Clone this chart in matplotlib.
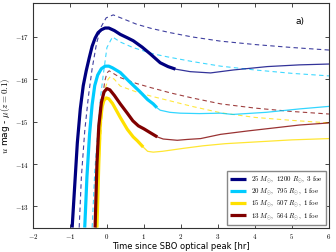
import matplotlib
matplotlib.use("Agg")
import matplotlib.pyplot as plt
from matplotlib.ticker import FuncFormatter

plt.rcParams['mathtext.fontset'] = 'cm'

# 25 Msun, 1200 Rsun, 3 foe
t_25 = [-0.94, -0.87, -0.8, -0.72, -0.64, -0.56, -0.48, -0.4, -0.32, -0.24, -0.15, -0.05, 0.05, 0.2, 0.36, 0.55, 0.71, 0.95, 1.17, 1.44, 1.65, 1.85]
m_25 = [-12.5, -13.5, -14.5, -15.3, -15.85, -16.2, -16.5, -16.78, -16.97, -17.1, -17.17, -17.21, -17.21, -17.15, -17.06, -16.98, -16.91, -16.76, -16.6, -16.39, -16.3, -16.24]
t_25_late = [1.85, 2.25, 2.8, 3.42, 4.34, 5.2, 6.0]
m_25_late = [-16.24, -16.18, -16.15, -16.22, -16.3, -16.34, -16.36]
t_25_alt = [-0.75, -0.69, -0.6, -0.5, -0.4, -0.28, -0.15, -0.02, 0.17, 0.43, 0.8, 1.2, 1.71, 2.3, 3.07, 4.0, 5.0, 6.0]
m_25_alt = [-12.5, -13.7, -14.78, -15.6, -16.25, -16.85, -17.25, -17.45, -17.52, -17.43, -17.3, -17.2, -17.1, -17.0, -16.9, -16.82, -16.75, -16.69]

# 20 Msun, 795 Rsun, 1 foe
t_20 = [-0.6, -0.54, -0.47, -0.4, -0.33, -0.25, -0.15, -0.05, 0.05, 0.15, 0.36, 0.6, 0.9, 1.1, 1.25, 1.35]
m_20 = [-12.5, -13.7, -14.7, -15.4, -15.85, -16.1, -16.25, -16.31, -16.31, -16.27, -16.16, -15.95, -15.7, -15.52, -15.42, -15.33]
t_20_late = [1.35, 1.44, 1.7, 1.98, 2.5, 3.07, 3.4, 4.3, 5.2, 6.0]
m_20_late = [-15.33, -15.27, -15.22, -15.2, -15.19, -15.2, -15.17, -15.22, -15.3, -15.36]
t_20_alt = [-0.4, -0.33, -0.25, -0.17, -0.1, 0.0, 0.15, 0.36, 0.7, 1.25, 1.63, 2.3, 3.07, 4.0, 5.0, 6.0]
m_20_alt = [-12.5, -13.8, -14.78, -15.6, -16.1, -16.75, -17.0, -16.88, -16.75, -16.6, -16.53, -16.42, -16.31, -16.22, -16.14, -16.08]

# 15 Msun, 507 Rsun, 1 foe
t_15 = [-0.27, -0.22, -0.18, -0.13, -0.08, -0.02, 0.05, 0.15, 0.36, 0.55, 0.71, 0.82, 0.98]
m_15 = [-12.5, -14.0, -14.95, -15.35, -15.5, -15.56, -15.54, -15.43, -15.1, -14.82, -14.64, -14.55, -14.4]
t_15_late = [0.98, 1.1, 1.25, 1.5, 2.07, 2.6, 3.2, 4.0, 5.0, 6.0]
m_15_late = [-14.4, -14.3, -14.28, -14.3, -14.37, -14.43, -14.48, -14.52, -14.57, -14.6]
t_15_alt = [-0.27, -0.2, -0.12, -0.04, 0.03, 0.09, 0.2, 0.36, 0.8, 1.2, 1.71, 2.3, 3.07, 4.0, 5.0, 6.0]
m_15_alt = [-12.5, -14.2, -15.3, -15.8, -16.0, -16.06, -16.0, -15.84, -15.7, -15.6, -15.49, -15.36, -15.21, -15.1, -15.03, -14.97]

# 13 Msun, 564 Rsun, 1 foe
t_13 = [-0.32, -0.27, -0.22, -0.15, -0.08, 0.0, 0.08, 0.2, 0.36, 0.55, 0.7, 0.85, 1.0, 1.15, 1.36]
m_13 = [-12.5, -14.0, -14.9, -15.45, -15.7, -15.78, -15.75, -15.62, -15.42, -15.2, -15.02, -14.9, -14.83, -14.75, -14.64]
t_13_late = [1.36, 1.52, 1.9, 2.17, 2.53, 3.07, 3.8, 4.5, 5.2, 6.0]
m_13_late = [-14.64, -14.59, -14.56, -14.58, -14.6, -14.7, -14.78, -14.85, -14.92, -14.97]
t_13_alt = [-0.29, -0.22, -0.14, -0.06, 0.0, 0.06, 0.15, 0.36, 0.8, 1.2, 1.71, 2.3, 3.07, 4.0, 5.0, 6.0]
m_13_alt = [-12.5, -14.2, -15.4, -15.95, -16.15, -16.2, -16.15, -16.04, -15.9, -15.8, -15.68, -15.56, -15.42, -15.32, -15.24, -15.18]

colors = ['#000080', '#00ccff', '#ffe000', '#800000']
labels = [r'$25\ M_{\odot},\ 1200\ R_{\odot},\ 3\ \mathrm{foe}$',
          r'$20\ M_{\odot},\ 795\ R_{\odot},\ 1\ \mathrm{foe}$',
          r'$15\ M_{\odot},\ 507\ R_{\odot},\ 1\ \mathrm{foe}$',
          r'$13\ M_{\odot},\ 564\ R_{\odot},\ 1\ \mathrm{foe}$']

fig = plt.figure(figsize=(3.36, 2.52), dpi=100)
ax = fig.add_axes([0.098, 0.097, 0.881, 0.891])

curves = [(t_25, m_25, t_25_late, m_25_late, t_25_alt, m_25_alt),
          (t_20, m_20, t_20_late, m_20_late, t_20_alt, m_20_alt),
          (t_15, m_15, t_15_late, m_15_late, t_15_alt, m_15_alt),
          (t_13, m_13, t_13_late, m_13_late, t_13_alt, m_13_alt)]

# dashed first, then thin, then thick on top
for (t, m, tl, ml, ta, ma), c in zip(curves, colors):
    ax.plot(ta, ma, color=c, lw=0.8, ls=(0, (4, 3)), alpha=0.75)
for (t, m, tl, ml, ta, ma), c in zip(curves, colors):
    ax.plot(tl, ml, color=c, lw=0.9, alpha=0.8)
handles = []
for (t, m, tl, ml, ta, ma), c, lab in zip(curves, colors, labels):
    h, = ax.plot(t, m, color=c, lw=2.3, label=lab, solid_capstyle='butt')
    handles.append(h)

ax.set_xlim(-2, 6)
ax.set_ylim(-12.5, -17.8)
ax.set_xticks(range(-2, 7))
ax.set_yticks([-13, -14, -15, -16, -17])
ax.xaxis.set_major_formatter(FuncFormatter(lambda v, p: r'$%d$' % v))
ax.yaxis.set_major_formatter(FuncFormatter(lambda v, p: r'$%d$' % v))
ax.tick_params(direction='in', top=True, right=True, labelsize=5, length=3, width=0.5, pad=3)
for s in ax.spines.values():
    s.set_linewidth(0.8)
    s.set_color('#333333')

ax.set_xlabel('Time since SBO optical peak [hr]', fontsize=6, labelpad=1)
ax.set_ylabel(r'$u$ mag - $\mu(z=0.1)$', fontsize=6.5, labelpad=2)
ax.text(5.1, -17.3, 'a)', fontsize=6.5)

leg = ax.legend(handles=handles, loc='lower right', fontsize=5, handlelength=2.2,
                borderpad=0.45, labelspacing=0.25, fancybox=False, framealpha=1,
                borderaxespad=0.4)
leg.get_frame().set_edgecolor('#888888')
leg.get_frame().set_linewidth(1.0)

fig.savefig('out.png', dpi=100)
